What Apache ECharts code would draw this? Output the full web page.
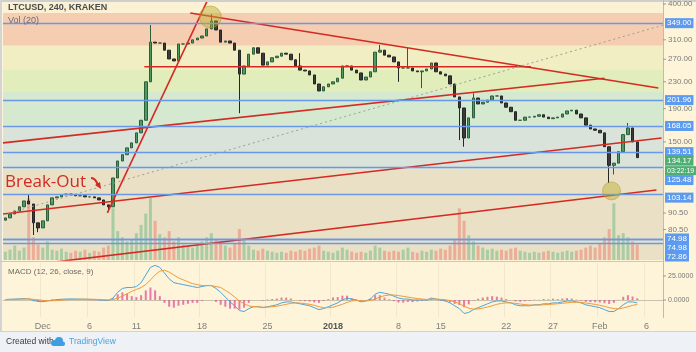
<!DOCTYPE html>
<html>
<head>
<meta charset="utf-8">
<script src="https://cdn.jsdelivr.net/npm/echarts@6/dist/echarts.min.js"></script>
<style>
  html, body { margin: 0; padding: 0; background: #fdf4d9; }
  #chart { width: 696px; height: 352px; }
</style>
</head>
<body>
<div id="chart"></div>
<script>
const firstBar = '2017-11-27T00:00:00Z'
const gapFrom = '2018-01-10T12:00:00Z' // exchange outage, bars missing on the chart
const missingBars = 5
const padBars = 5

const firstOpen = 86
const closes = [
  87.4, 89.9, 91.8, 94.6, 98.6, 96.5, 84.4, 81.4, 85.6, 95.9,
  100.8, 101.5, 103, 103.6, 103, 102.3, 102.3, 101.5, 101.5, 100.8,
  99.3, 95.9, 94.6, 116.1, 131, 137, 143.8, 149, 160, 175,
  230, 305, 303, 303, 288, 270.6, 266.8, 301, 301, 303,
  310, 314, 318.6, 335, 354.5, 332.5, 305, 307.5, 303, 288,
  243, 257.5, 280, 293, 282, 259, 265, 273, 276, 282,
  280, 269, 257.5, 250, 248.5, 241.5, 226.5, 215.5, 222, 226.5,
  230, 236, 257.5, 257.5, 250, 245, 233, 238, 247, 284,
  288, 278, 274.5, 265, 253.8, 253.8, 253.8, 248.5, 247, 248.5,
  252, 263, 247, 243, 240, 226.5, 206.6, 191, 154.3, 178,
  205, 196.5, 199, 202, 208, 208, 197.9, 192, 186, 175,
  175, 179, 179, 180, 182, 179, 177, 178, 179, 183,
  187, 188, 183, 178, 169, 164.5, 163, 160, 145, 127,
  129, 140, 158, 165.7, 150, 134.17
]
// [bar, price] of the longer wicks
const wickHighs = [[5, 103], [31, 344.5], [44, 372], [63, 282], [80, 299], [86, 293], [100, 212], [133, 171.7]]
const wickLows = [[6, 77.4], [7, 79], [22, 91.2], [50, 184], [84, 230], [89, 220], [97, 152], [98, 145], [129, 112], [130, 119]]

// thousands of LTC
const volumes = [
  80, 100, 140, 90, 120, 600, 220, 150, 120, 180, 100, 90, 110, 80, 70, 90, 80, 100, 70, 90, 80, 120, 140,
  500, 280, 220, 180, 200, 260, 340, 450, 600, 380, 250, 220, 280, 180, 220, 150, 140, 120, 150, 180, 220, 260, 200, 180, 140, 120, 160,
  300, 200, 140, 100, 90, 110, 90, 80, 70, 80, 70, 90, 80, 100, 90, 110, 120, 140, 90, 80, 70, 90, 120, 100, 80,
  70, 80, 70, 90, 140, 120, 90, 80, 90, 80, 100, 120, 80, 70, 90, 80, 100, 90, 110, 100, 140, 200,
  500, 380, 240, 180, 140, 120, 100, 110, 90, 100, 90, 110, 120, 90, 80, 70, 80, 70, 80, 90, 80, 70, 80, 90, 80,
  90, 100, 120, 140, 120, 160, 220, 300, 550, 240, 260, 220, 180, 150
]

const macdLine = [
  0.5, 0.8, 1, 1.2, 1.5, 1.2, -0.5, -1.5, -1.8, -1, -0.2, 0.3, 0.8, 1, 1.1, 1, 0.9, 0.8, 0.6, 0.4, 0.1, -0.3, -0.5,
  2, 8, 12, 13, 13, 14, 18, 26, 34, 36, 34, 28, 22, 18, 17, 16, 15, 14, 13, 14, 15, 15, 12, 8, 3, -2, -6,
  -11, -12, -9, -7, -7, -8, -7, -6, -5, -3, -2, -2, -3, -4, -5, -6, -8, -10, -9, -7, -5, -3, 0, 2, 1,
  0, -2, -1, 1, 6, 8, 7, 6, 4, 2, 1, 1, 0, 0, 0, 0, 2, 1, 0, -1, -3, -6,
  -9, -14, -13, -10, -8, -6, -4, -2, -1, -1, -2, -3, -5, -6, -6, -6, -5, -5, -4, -4, -3, -3, -2, -1, -1,
  -2, -3, -5, -6, -7, -8, -10, -12, -12, -9, -5, -2, -2, -3
]
const signalLine = [
  0.3, 0.5, 0.6, 0.8, 1, 1.1, 0.7, 0.2, -0.4, -0.8, -0.8, -0.5, -0.2, 0.2, 0.5, 0.7, 0.8, 0.8, 0.8, 0.7, 0.5, 0.3, 0.1,
  0.5, 2, 4, 6.5, 9, 11, 13, 16, 21, 26, 30, 31, 29, 26, 23, 21, 19, 17, 16, 15, 15, 15, 14, 13, 10, 7, 3,
  -1, -4, -6, -7, -7, -7.5, -7.5, -7, -6.5, -5.5, -4.5, -3.5, -3, -3.2, -3.8, -4.5, -5.5, -7, -8, -8, -7.5, -6, -4.5, -2.5, -1,
  -0.5, -0.8, -1, -0.5, 1, 3, 4.5, 5.2, 5.2, 4.6, 3.8, 3, 2.2, 1.5, 1, 0.6, 0.8, 0.9, 0.7, 0.3, -0.6, -2,
  -3.8, -6.5, -8.5, -9.5, -9.3, -8.5, -7.3, -6, -4.5, -3.5, -3, -3, -3.5, -4.2, -4.8, -5.2, -5.3, -5.2, -5, -4.7, -4.3, -3.9, -3.5, -2.9, -2.4,
  -2.3, -2.5, -3.1, -3.8, -4.6, -5.5, -6.6, -7.9, -9, -9.2, -8.3, -7, -5.6, -4.7
]

const tickDays = ['2017-12-01', '2017-12-06', '2017-12-11', '2017-12-18', '2017-12-25', '2018-01-01', '2018-01-08', '2018-01-15', '2018-01-22', '2018-01-27', '2018-02-01', '2018-02-06']
const tickTexts = ['Dec', '6', '11', '18', '25', '2018', '8', '15', '22', '27', 'Feb', '6']

const priceMin = 64.8
const priceMax = 405.7
const axisTicks = [400, 310, 270, 230, 190, 150, 90.5, 80.5]
const priceLevels = [349, 201.96, 168.05, 139.51, 125.48, 103.14, 74.98, 74.98, 72.86]
const lastPrice = 134.17
const countdown = '03:22:19'
const macdMin = -17.7
const macdMax = 38.5
const macdTicks = [25, 0]

// fibonacci zones, price ranges
const fibBands = [[375, priceMax], [297, 375], [250, 297], [214, 250], [169, 214], [123, 169], [priceMin, 123]]
// drawn trend lines: [bar, price, bar, price]
const trendLines = [
  [21.8, 90.6, 43.2, 411],
  [39.5, 375, 139.5, 220],
  [29.7, 256, 112.3, 256],
  [-0.5, 149, 128, 236],
  [-0.5, 89.9, 140.2, 154.3],
  [10.6, 63.9, 139.1, 106.6]
]
const guideLine = [[-0.5, 89.3], [140.6, 344.5]]
const highlights = [[43.8, 364.7], [129.5, 105.9]]

// label layout (px shift so boxes don't overlap, like the original)
const levelLabelShift = [0, 0, 0, 0, 13, 3, -1, 8, 13]
const bandColors = ['#fbf1d4', '#f5ceb2', '#f0eec2', '#e1edba', '#d4e9d0', '#d9e3da', '#eae0c6']

const HALF_DAY = 12 * 3600 * 1000
const pad2 = n => String(n).padStart(2, '0')
function fmt (t) {
  const d = new Date(t)
  return `${d.getUTCFullYear()}-${pad2(d.getUTCMonth() + 1)}-${pad2(d.getUTCDate())} ${pad2(d.getUTCHours())}:00`
}
function buildCategories (count) {
  const out = []
  let t = Date.parse(firstBar)
  const gap = Date.parse(gapFrom)
  while (out.length < count) {
    if (t === gap) t += missingBars * HALF_DAY
    out.push(fmt(t))
    t += HALF_DAY
  }
  return out
}

const categories = buildCategories(closes.length + padBars)
const tickMap = new Map(tickDays.map((d, k) => [d + ' 00:00', tickTexts[k]]))
const isTick = (idx, val) => tickMap.has(val)

const hiMap = new Map(wickHighs)
const loMap = new Map(wickLows)
const candles = closes.map((c, i) => {
  const o = i ? closes[i - 1] : firstOpen
  return [o, c, loMap.get(i) ?? Math.min(o, c), hiMap.get(i) ?? Math.max(o, c)]
})
const volData = volumes.map((v, i) => ({
  value: v,
  itemStyle: { color: candles[i][1] >= candles[i][0] ? 'rgba(90,180,120,0.45)' : 'rgba(240,110,90,0.45)' }
}))
const histData = macdLine.map((m, i) => +(m - signalLine[i]).toFixed(2))

const FONT = 'Liberation Sans'
const GRID_L = 3
const GRID_R = 33

const option = {
  animation: false,
  backgroundColor: '#fdf4d9',
  grid: [
    { left: GRID_L, right: GRID_R, top: 2, height: 258 },
    { left: GRID_L, right: GRID_R, top: 263, height: 54 }
  ],
  xAxis: [
    { type: 'category', gridIndex: 0, data: categories, show: false },
    { type: 'value', gridIndex: 0, min: -0.5, max: categories.length - 0.5, show: false },
    {
      type: 'category',
      gridIndex: 1,
      data: categories,
      axisLine: { lineStyle: { color: '#c9c3ad' } },
      axisTick: { interval: isTick, alignWithLabel: true, length: 3, lineStyle: { color: '#b5b0a0' } },
      splitLine: { show: true, interval: isTick, lineStyle: { color: 'rgba(0,0,0,0.05)' } },
      axisLabel: {
        interval: isTick,
        margin: 5,
        fontSize: 9,
        fontFamily: FONT,
        color: '#7d7d7d',
        formatter: v => tickMap.get(v) === '2018' ? '{b|2018}' : (tickMap.get(v) || ''),
        rich: { b: { fontWeight: 'bold', fontSize: 9, fontFamily: FONT, color: '#555' } }
      }
    }
  ],
  yAxis: [
    { type: 'log', gridIndex: 0, min: priceMin, max: priceMax, show: false },
    { type: 'value', gridIndex: 0, min: 0, max: 2500, show: false },
    { type: 'value', gridIndex: 1, min: macdMin, max: macdMax, show: false }
  ],
  series: [
    {
      name: 'fib',
      type: 'line',
      xAxisIndex: 1,
      yAxisIndex: 0,
      data: [],
      z: 0,
      silent: true,
      markArea: {
        silent: true,
        data: fibBands.map((b, k) => [{ yAxis: b[0], itemStyle: { color: bandColors[k], opacity: 1 } }, { yAxis: b[1] }])
      }
    },
    {
      name: 'Vol',
      type: 'bar',
      xAxisIndex: 0,
      yAxisIndex: 1,
      data: volData,
      barWidth: 3,
      z: 1
    },
    {
      name: 'levels',
      type: 'line',
      xAxisIndex: 1,
      yAxisIndex: 0,
      data: [],
      z: 2,
      silent: true,
      markLine: {
        silent: true,
        symbol: ['none', 'none'],
        label: { show: false },
        lineStyle: { color: '#6a98e6', width: 1.4, type: 'solid' },
        data: priceLevels.map(v => ({ yAxis: v }))
      }
    },
    {
      name: 'LTCUSD',
      type: 'candlestick',
      xAxisIndex: 0,
      yAxisIndex: 0,
      data: candles,
      barWidth: 3,
      z: 3,
      itemStyle: {
        color: '#4f9a64',
        color0: '#3a3a3a',
        borderColor: '#2d5e3a',
        borderColor0: '#262626',
        borderWidth: 1
      }
    },
    ...trendLines.map((l, k) => ({
      name: 'trend' + k,
      type: 'line',
      xAxisIndex: 1,
      yAxisIndex: 0,
      data: [[l[0], l[1]], [l[2], l[3]]],
      symbol: 'none',
      silent: true,
      z: 4,
      lineStyle: { color: '#d42a22', width: 1.6 }
    })),
    {
      name: 'guide',
      type: 'line',
      xAxisIndex: 1,
      yAxisIndex: 0,
      data: guideLine,
      symbol: 'none',
      silent: true,
      z: 4,
      lineStyle: { color: '#a09c94', width: 1, type: [2, 3] }
    },
    {
      name: 'marks',
      type: 'scatter',
      xAxisIndex: 1,
      yAxisIndex: 0,
      data: highlights,
      symbolSize: (v, p) => p.dataIndex === 0 ? 22 : 18,
      silent: true,
      z: 5,
      itemStyle: { color: 'rgba(185,170,40,0.55)', borderColor: 'rgba(170,150,30,0.6)', borderWidth: 1 }
    },
    {
      name: 'hist',
      type: 'bar',
      xAxisIndex: 2,
      yAxisIndex: 2,
      data: histData,
      barWidth: 2,
      itemStyle: { color: 'rgba(225,80,150,0.75)' }
    },
    {
      name: 'MACD',
      type: 'line',
      xAxisIndex: 2,
      yAxisIndex: 2,
      data: macdLine,
      symbol: 'none',
      lineStyle: { color: '#4aa6da', width: 1 }
    },
    {
      name: 'Signal',
      type: 'line',
      xAxisIndex: 2,
      yAxisIndex: 2,
      data: signalLine,
      symbol: 'none',
      lineStyle: { color: '#f29a3a', width: 1 }
    }
  ]
}

const chart = echarts.init(document.getElementById('chart'))
chart.setOption(option)

// right-hand price scale labels, placed through the axes
const axisX = 696 - GRID_R
const yPrice = v => chart.convertToPixel({ yAxisIndex: 0 }, v)
const yMacd = v => chart.convertToPixel({ yAxisIndex: 2 }, v)
const txt = (x, y, text, extra) => ({
  type: 'text',
  silent: true,
  z: 20,
  style: Object.assign({ x, y, text, fontSize: 8, fontFamily: FONT, fill: '#7a7a7a', verticalAlign: 'middle' }, extra)
})
const box = (y, text, bg, size) => txt(axisX + 2, y, text, { fill: '#fff', backgroundColor: bg, padding: [1, 2, 1, 2], fontSize: size || 8 })

const graphics = [
  { type: 'rect', silent: true, z: 10, shape: { x: 0, y: 0, width: 696, height: 2 }, style: { fill: '#cfcfcf' } },
  { type: 'rect', silent: true, z: 10, shape: { x: 0, y: 0, width: 2, height: 331 }, style: { fill: '#d4d4d4' } },
  { type: 'line', silent: true, z: 10, shape: { x1: axisX + 0.5, y1: 0, x2: axisX + 0.5, y2: 318 }, style: { stroke: '#c2bca6', lineWidth: 1 } },
  { type: 'line', silent: true, z: 10, shape: { x1: 0, y1: 261.5, x2: axisX, y2: 261.5 }, style: { stroke: '#c7c7c7', lineWidth: 1 } },
  { type: 'line', silent: true, z: 10, shape: { x1: 0, y1: 331.5, x2: 696, y2: 331.5 }, style: { stroke: '#d6d2c4', lineWidth: 1 } },
  { type: 'rect', silent: true, z: 10, shape: { x: 0, y: 332, width: 696, height: 20 }, style: { fill: '#eef1f5' } },
  txt(8, 8, 'LTCUSD, 240, KRAKEN', { fill: '#4d4d4d', fontWeight: 'bold', fontSize: 9 }),
  txt(8, 21, 'Vol (20)', { fill: '#6a6a7a', fontSize: 9 }),
  txt(8, 272, 'MACD (12, 26, close, 9)', { fill: '#6a6a6a' }),
  txt(5, 182, 'Break-Out', { fill: '#d42a22', fontSize: 17, fontFamily: 'Open Sans' }),
  { type: 'bezierCurve', silent: true, z: 20, shape: { x1: 91, y1: 178, x2: 98, y2: 186, cpx1: 96, cpy1: 178 }, style: { stroke: '#d42a22', lineWidth: 2.2, fill: null } },
  { type: 'polygon', silent: true, z: 20, shape: { points: [[95, 185], [101, 189], [100, 182]] }, style: { fill: '#d42a22' } },
  txt(6, 342, 'Created with', { fill: '#3a3a3a', fontSize: 8.5 }),
  { type: 'circle', silent: true, z: 20, shape: { cx: 54, cy: 343, r: 3 }, style: { fill: '#3d9ee2' } },
  { type: 'circle', silent: true, z: 20, shape: { cx: 59, cy: 341, r: 4 }, style: { fill: '#3d9ee2' } },
  { type: 'rect', silent: true, z: 20, shape: { x: 52, y: 341.5, width: 13, height: 4.5, r: 2 }, style: { fill: '#3d9ee2' } },
  txt(69, 342, 'TradingView', { fill: '#4aa3de', fontSize: 8.5 })
]

axisTicks.forEach(v => {
  const y = yPrice(v)
  graphics.push({ type: 'line', silent: true, z: 20, shape: { x1: axisX, y1: y, x2: axisX + 3, y2: y }, style: { stroke: '#999', lineWidth: 1 } })
  graphics.push(txt(axisX + 5, y, v.toFixed(2)))
})
priceLevels.forEach((v, k) => graphics.push(box(yPrice(v) + levelLabelShift[k], v.toFixed(2), '#5c9bef')))
const lastY = yPrice(lastPrice) + 3
graphics.push(box(lastY, lastPrice.toFixed(2), '#4fae74'))
graphics.push(box(lastY + 10, countdown, '#4fae74', 7))
macdTicks.forEach(v => {
  const y = yMacd(v)
  graphics.push({ type: 'line', silent: true, z: 20, shape: { x1: axisX, y1: y, x2: axisX + 3, y2: y }, style: { stroke: '#999', lineWidth: 1 } })
  graphics.push(txt(axisX + 5, y, v.toFixed(4), { fontSize: 7 }))
})

chart.setOption({ graphic: graphics })
</script>
</body>
</html>
